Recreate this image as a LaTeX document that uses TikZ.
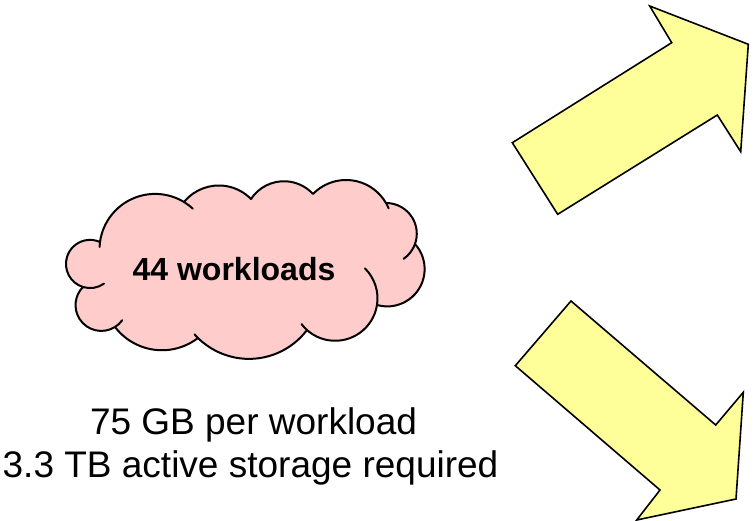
\documentclass[tikz,border=0pt]{standalone}
\usepackage{fontspec}
\setmainfont{Liberation Sans}
\definecolor{cloudpink}{HTML}{FFCCCC}
\definecolor{arrowyellow}{HTML}{FFFF99}

% \setbump{name}{ax}{ay}{mx}{my}{bx}{by}: circle through A, M, B;
% stores centre, radius, start/end angle and sweep sign as \<name>x ... \<name>g
\newcommand\setbump[7]{%
  \pgfmathsetmacro\cbpx{(#4-#2)/10}\pgfmathsetmacro\cbpy{(#5-#3)/10}%
  \pgfmathsetmacro\cbqx{(#6-#2)/10}\pgfmathsetmacro\cbqy{(#7-#3)/10}%
  \pgfmathsetmacro\cbd{2*(\cbpx*\cbqy-\cbpy*\cbqx)}%
  \pgfmathsetmacro\cbux{(\cbqy*(\cbpx*\cbpx+\cbpy*\cbpy)-\cbpy*(\cbqx*\cbqx+\cbqy*\cbqy))/\cbd}%
  \pgfmathsetmacro\cbuy{(\cbpx*(\cbqx*\cbqx+\cbqy*\cbqy)-\cbqx*(\cbpx*\cbpx+\cbpy*\cbpy))/\cbd}%
  \pgfmathsetmacro\cbr{10*sqrt(\cbux*\cbux+\cbuy*\cbuy)}%
  \pgfmathsetmacro\cbta{atan2(-\cbuy,-\cbux)}%
  \pgfmathsetmacro\cbtm{atan2(\cbpy-\cbuy,\cbpx-\cbux)}%
  \pgfmathsetmacro\cbtb{atan2(\cbqy-\cbuy,\cbqx-\cbux)}%
  \pgfmathsetmacro\cbsw{mod(\cbtb-\cbta+720,360)}%
  \pgfmathsetmacro\cbmid{mod(\cbtm-\cbta+720,360)}%
  \pgfmathsetmacro\cbte{\cbmid<\cbsw ? \cbta+\cbsw : \cbta+\cbsw-360}%
  \pgfmathsetmacro\cbsg{\cbte>\cbta ? 1 : -1}%
  \pgfmathsetmacro\cbcx{#2+10*\cbux}\pgfmathsetmacro\cbcy{#3+10*\cbuy}%
  \expandafter\xdef\csname #1x\endcsname{\cbcx}%
  \expandafter\xdef\csname #1y\endcsname{\cbcy}%
  \expandafter\xdef\csname #1r\endcsname{\cbr}%
  \expandafter\xdef\csname #1s\endcsname{\cbta}%
  \expandafter\xdef\csname #1e\endcsname{\cbte}%
  \expandafter\xdef\csname #1g\endcsname{\cbsg}%
}

% bumps of the cloud, clockwise from the upper left
\setbump{cbTL}{100}{242}{126.7}{201.7}{184}{202}
\setbump{cbTM}{184}{202}{223.3}{185.7}{251}{199}
\setbump{cbTN}{251}{199}{290}{181.7}{313}{194}
\setbump{cbTR}{313}{194}{346.7}{180}{386}{203}
\setbump{cbRU}{386}{203}{415}{223.3}{415}{244}
\setbump{cbRL}{415}{244}{423}{280}{377}{305}
\setbump{cbBR}{377}{305}{353.3}{336.7}{307}{330}
\setbump{cbBM}{307}{330}{266.7}{356.7}{198}{338}
\setbump{cbBL}{198}{338}{156.7}{350}{115}{327}
\setbump{cbLL}{115}{327}{76}{310}{83}{287}
\setbump{cbLF}{83}{287}{66}{265}{100}{242}

\newcommand\bumparc[1]{arc[start angle=\csname #1s\endcsname,
  end angle=\csname #1e\endcsname, radius=\csname #1r\endcsname]}
% fold continuing a bump past its end (+1) or before its start (-1), length in px
\newcommand\fold[3]{%
  \pgfmathsetmacro\cbfa{#2>0 ? \csname #1e\endcsname : \csname #1s\endcsname}%
  \pgfmathsetmacro\cbfd{#2*\csname #1g\endcsname*#3/\csname #1r\endcsname*57.2958}%
  \draw[cloudfold, shift={(\csname #1x\endcsname,\csname #1y\endcsname)}]
    (\cbfa:\csname #1r\endcsname) arc[start angle=\cbfa, delta angle=\cbfd,
    radius=\csname #1r\endcsname];%
}

\begin{document}
\begin{tikzpicture}[x=1pt,y=-1pt,
  cloudbody/.style={fill=cloudpink, draw=black, line width=2pt, line join=round},
  cloudfold/.style={draw=black, line width=2pt, line cap=round},
  blockarrow/.style={fill=arrowyellow, draw=black, line width=1.6pt, line join=miter},
  bigtext/.style={font=\fontsize{37}{43}\selectfont, anchor=base, inner sep=0pt},
  cloudtext/.style={font=\bfseries\fontsize{32}{38}\selectfont, anchor=base, inner sep=0pt}]
\useasboundingbox (0,0) rectangle (755,520);

% cloud outline
\path[cloudbody] (100,242) \bumparc{cbTL} \bumparc{cbTM} \bumparc{cbTN}
  \bumparc{cbTR} \bumparc{cbRU} \bumparc{cbRL} \bumparc{cbBR} \bumparc{cbBM}
  \bumparc{cbBL} \bumparc{cbLL} \bumparc{cbLF} -- cycle;

% inner folds where the bumps overlap
\fold{cbTL}{1}{11}
\fold{cbTL}{-1}{5}
\fold{cbTR}{1}{6}
\fold{cbRU}{1}{19}
\fold{cbBR}{-1}{40}
\fold{cbBR}{1}{8}
\fold{cbBM}{1}{5}
\fold{cbLL}{-1}{10}
\fold{cbLF}{-1}{22}

\node[cloudtext] (load) at (234,280) {44 workloads};

\node[bigtext] (pergb) at (253.5,434) {75 GB per workload};
\node[bigtext] (total) at (250.5,477) {3.3 TB active storage required};

% block arrows
\draw[blockarrow] (512.3,142.7) -- (557.7,214.3) -- (717.3,115) -- (740.7,151.7)
  -- (748.3,44.3) -- (649.7,6) -- (671.7,42.7) -- cycle;
\draw[blockarrow] (571,301) -- (515.3,365.7) -- (660,490) -- (636.7,520)
  -- (736,499) -- (743.3,392.3) -- (715.7,425) -- cycle;
\end{tikzpicture}
\end{document}
